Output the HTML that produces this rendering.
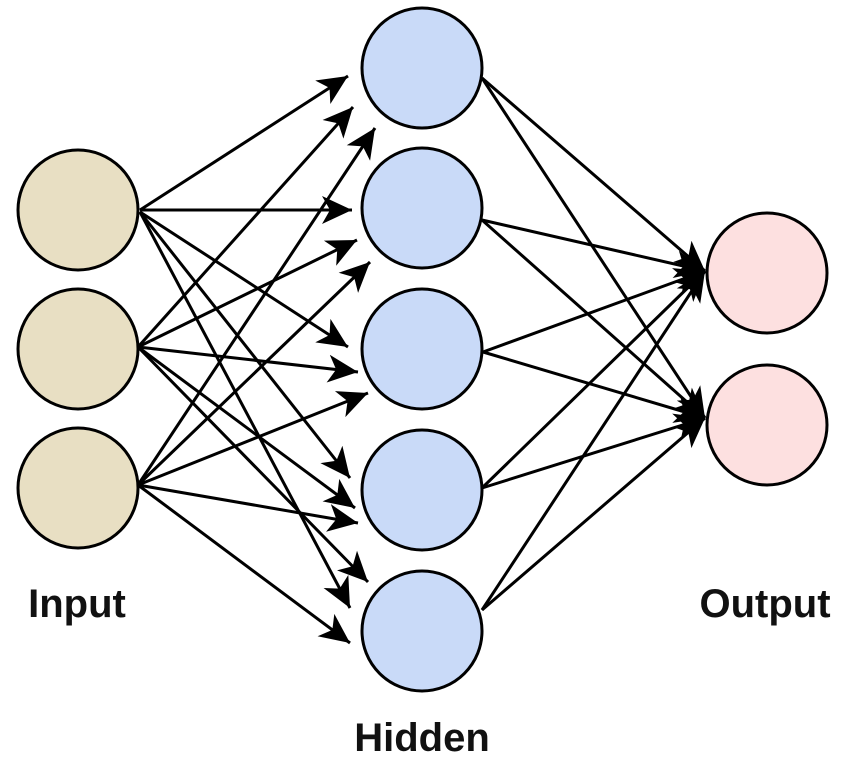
<!DOCTYPE html>
<html><head><meta charset="utf-8"><style>
html,body{margin:0;padding:0;background:#fff;}
svg{display:block;}
text{font-family:"Liberation Sans",sans-serif;font-weight:bold;font-size:40px;fill:#111;}
</style></head><body>
<svg width="853" height="760" viewBox="0 0 853 760" xmlns="http://www.w3.org/2000/svg">
<defs>
<marker id="a" markerUnits="userSpaceOnUse" markerWidth="36" markerHeight="32" refX="30" refY="16" orient="auto">
<path d="M0,2 L30,16 L0,30 L8,16 Z" fill="#000"/>
</marker>
</defs>
<g stroke="#000" stroke-width="3" fill="none" marker-end="url(#a)">
<line x1="140" y1="210" x2="348" y2="76"/>
<line x1="140" y1="210" x2="352" y2="210"/>
<line x1="140" y1="212" x2="348" y2="347"/>
<line x1="140" y1="212" x2="350" y2="478"/>
<line x1="140" y1="212" x2="350" y2="608"/>
<line x1="138" y1="347" x2="353" y2="107"/>
<line x1="138" y1="347" x2="357" y2="240"/>
<line x1="138" y1="347" x2="358" y2="372"/>
<line x1="138" y1="347" x2="355" y2="508"/>
<line x1="138" y1="347" x2="368" y2="582"/>
<line x1="138" y1="485" x2="375" y2="128"/>
<line x1="138" y1="485" x2="370" y2="262"/>
<line x1="138" y1="485" x2="368" y2="393"/>
<line x1="138" y1="485" x2="358" y2="523"/>
<line x1="138" y1="485" x2="350" y2="643"/>
<line x1="482" y1="78" x2="705" y2="271"/>
<line x1="482" y1="78" x2="705" y2="418"/>
<line x1="482" y1="220" x2="705" y2="271"/>
<line x1="482" y1="220" x2="705" y2="418"/>
<line x1="483" y1="352" x2="705" y2="271"/>
<line x1="483" y1="352" x2="705" y2="418"/>
<line x1="482" y1="488" x2="705" y2="271"/>
<line x1="482" y1="488" x2="705" y2="418"/>
<line x1="482" y1="610" x2="705" y2="271"/>
<line x1="482" y1="610" x2="705" y2="418"/>
</g>
<g stroke="#000" stroke-width="3">
<circle cx="78" cy="210" r="60" fill="#e8dfc3"/>
<circle cx="78" cy="349" r="60" fill="#e8dfc3"/>
<circle cx="78" cy="488" r="60" fill="#e8dfc3"/>
<circle cx="422" cy="68" r="60" fill="#c9daf8"/>
<circle cx="422" cy="208" r="60" fill="#c9daf8"/>
<circle cx="422" cy="349" r="60" fill="#c9daf8"/>
<circle cx="422" cy="490" r="60" fill="#c9daf8"/>
<circle cx="422" cy="631" r="60" fill="#c9daf8"/>
<circle cx="767" cy="273" r="60" fill="#fde0e0"/>
<circle cx="767" cy="425" r="60" fill="#fde0e0"/>
</g>
<text x="77" y="617" text-anchor="middle">Input</text>
<text x="422" y="751" text-anchor="middle">Hidden</text>
<text x="765" y="617" text-anchor="middle">Output</text>
</svg>
</body></html>
